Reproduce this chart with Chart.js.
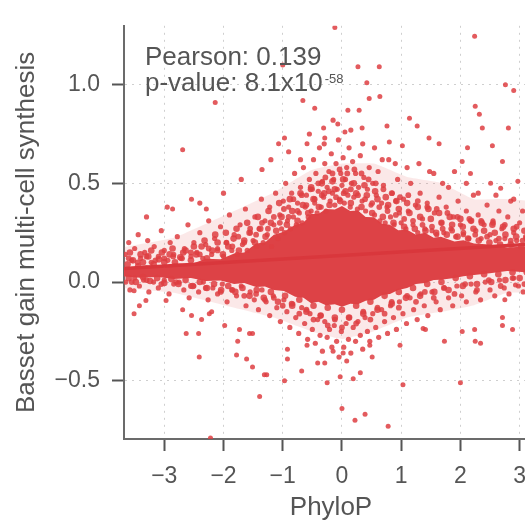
<!DOCTYPE html>
<html>
<head>
<meta charset="utf-8">
<script src="https://cdn.jsdelivr.net/npm/chart.js@4.4.1/dist/chart.umd.min.js"></script>
<style>
  html, body { margin: 0; padding: 0; background: #fff; overflow: hidden; }
  #wrap { position: absolute; left: 0; top: 0; width: 545px; height: 527px; }
</style>
</head>
<body>
<div id="wrap"><canvas id="graf" width="545" height="527"></canvas></div>
<script>
// Osy a popisky
const xTicks = [-3, -2, -1, 0, 1, 2, 3];
const xTickLabels = ['\u22123', '\u22122', '\u22121', '0', '1', '2', '3'];
const yTicks = [-0.5, 0, 0.5, 1.0];
const yTickLabels = ['\u22120.5', '0.0', '0.5', '1.0'];
const xRange = [-3.68, 3.31];
const yRange = [-0.795, 1.298];
const xTitle = 'PhyloP';
const yTitle = 'Basset gain multi-cell synthesis';
const pearsonText = 'Pearson: 0.139';
const pvalueText = 'p-value: 8.1x10';
const pvalueExp = '-58';

// Regresni primka
const fitX = [-3.68, 3.35];
const fitY = [0.068, 0.195];

// Hustne jadro bodu (obrys plne plochy)
const coreOutline = [
  [-3.7, 0.068], [-3.3, 0.085], [-3.0, 0.075], [-2.84, 0.095], [-2.55, 0.09], [-2.3, 0.118], [-2.05, 0.115],
  [-1.82, 0.145], [-1.65, 0.15], [-1.45, 0.195], [-1.3, 0.2], [-1.15, 0.24], [-0.98, 0.255], [-0.79, 0.29],
  [-0.65, 0.3], [-0.52, 0.345], [-0.4, 0.345], [-0.27, 0.37], [-0.12, 0.368], [0, 0.385], [0.14, 0.36],
  [0.27, 0.362], [0.4, 0.33], [0.54, 0.328], [0.68, 0.295], [0.81, 0.29], [0.95, 0.262], [1.10, 0.265],
  [1.25, 0.24], [1.4, 0.25], [1.55, 0.225], [1.67, 0.23], [1.9, 0.205], [2.05, 0.212], [2.23, 0.195],
  [2.5, 0.19], [2.79, 0.175], [3.1, 0.18], [3.4, 0.171],
  [3.4, 0.059], [3.1, 0.05], [2.79, 0.056], [2.5, 0.045], [2.23, 0.036], [2.05, 0.03], [1.9, 0.02],
  [1.67, 0.012], [1.55, 0.01], [1.4, -0.005], [1.25, -0.01], [1.10, -0.03], [0.95, -0.04], [0.81, -0.06],
  [0.68, -0.065], [0.54, -0.09], [0.4, -0.095], [0.27, -0.113], [0.14, -0.11], [0, -0.125], [-0.12, -0.112],
  [-0.27, -0.118], [-0.4, -0.1], [-0.52, -0.108], [-0.65, -0.08], [-0.79, -0.075], [-0.98, -0.045],
  [-1.15, -0.04], [-1.3, -0.022], [-1.45, -0.025], [-1.65, -0.005], [-1.82, -0.01], [-2.05, 0.008],
  [-2.3, 0.005], [-2.55, 0.02], [-2.84, 0.015], [-3.1, 0.025], [-3.4, 0.022], [-3.7, 0.029]
];

// Ridsi pas kolem jadra
const outerHalo = [
  [-3.7, 0.176], [-2.84, 0.224], [-1.99, 0.337], [-1.15, 0.454], [-0.52, 0.566], [0, 0.6], [0.54, 0.6],
  [1.10, 0.532], [1.67, 0.502], [2.23, 0.42], [2.79, 0.42], [3.4, 0.395],
  [3.4, -0.044], [2.79, -0.054], [2.23, -0.117], [1.67, -0.151], [1.10, -0.18], [0.54, -0.249], [0, -0.288],
  [-0.52, -0.249], [-1.15, -0.18], [-1.99, -0.117], [-2.84, -0.054], [-3.7, -0.029]
];

// Husty pas bodu u okraje jadra
const densePoints = [
  [-3.62, 0.09], [-3.53, 0.11], [-3.44, 0.08], [-3.36, 0.1], [-3.27, 0.13], [-3.18, 0.09], [-3.09, 0.115], [-3.0, 0.1],
  [-2.91, 0.14], [-2.82, 0.1], [-2.73, 0.125], [-2.64, 0.16], [-2.55, 0.11], [-2.46, 0.14], [-2.37, 0.18], [-2.28, 0.12],
  [-2.19, 0.16], [-2.1, 0.2], [-2.01, 0.14], [-1.92, 0.18], [-1.83, 0.22], [-1.74, 0.16], [-1.65, 0.21], [-1.56, 0.25],
  [-1.47, 0.2], [-1.38, 0.27], [-1.29, 0.23], [-1.2, 0.3], [-1.11, 0.26], [-1.02, 0.33], [-0.93, 0.29], [-0.84, 0.36],
  [-0.75, 0.31], [-0.66, 0.39], [-0.57, 0.35], [-0.48, 0.42], [-0.39, 0.38], [-0.3, 0.45], [-0.21, 0.39], [-0.12, 0.47],
  [-0.03, 0.41], [0.06, 0.46], [0.15, 0.4], [0.24, 0.45], [0.33, 0.38], [0.42, 0.44], [0.51, 0.35], [0.6, 0.42],
  [0.69, 0.33], [0.78, 0.39], [0.87, 0.3], [0.96, 0.37], [1.05, 0.28], [1.14, 0.35], [1.23, 0.27], [1.32, 0.33],
  [1.41, 0.26], [1.5, 0.32], [1.59, 0.25], [1.68, 0.3], [1.77, 0.24], [1.86, 0.29], [1.95, 0.23], [2.04, 0.28],
  [2.13, 0.22], [2.22, 0.27], [2.31, 0.21], [2.4, 0.26], [2.49, 0.2], [2.58, 0.25], [2.67, 0.19], [2.76, 0.24],
  [2.85, 0.19], [2.94, 0.23], [3.03, 0.18], [3.12, 0.22], [3.21, 0.18], [3.3, 0.21],
  [-3.58, 0.15], [-3.4, 0.14], [-3.22, 0.16], [-3.04, 0.15], [-2.86, 0.17], [-2.68, 0.15], [-2.5, 0.18], [-2.32, 0.21],
  [-2.14, 0.24], [-1.96, 0.25], [-1.78, 0.27], [-1.6, 0.3], [-1.42, 0.33], [-1.24, 0.36], [-1.06, 0.4], [-0.88, 0.42],
  [-0.7, 0.45], [-0.52, 0.48], [-0.34, 0.5], [-0.16, 0.51], [0.02, 0.52], [0.2, 0.5], [0.38, 0.49], [0.56, 0.46],
  [0.74, 0.43], [0.92, 0.41], [1.1, 0.4], [1.28, 0.38], [1.46, 0.37], [1.64, 0.35], [1.82, 0.33], [2.0, 0.32],
  [2.18, 0.31], [2.36, 0.3], [2.54, 0.29], [2.72, 0.28], [2.9, 0.27], [3.08, 0.26], [3.26, 0.27],
  [-3.6, 0.02], [-3.48, 0.0], [-3.36, 0.025], [-3.24, 0.005], [-3.12, 0.02], [-3.0, -0.005], [-2.88, 0.015], [-2.76, -0.01],
  [-2.64, 0.01], [-2.52, -0.02], [-2.4, 0.0], [-2.28, -0.03], [-2.16, -0.01], [-2.04, -0.04], [-1.92, -0.02], [-1.8, -0.05],
  [-1.68, -0.03], [-1.56, -0.07], [-1.44, -0.04], [-1.32, -0.08], [-1.2, -0.05], [-1.08, -0.1], [-0.96, -0.07], [-0.84, -0.12],
  [-0.72, -0.09], [-0.6, -0.15], [-0.48, -0.12], [-0.36, -0.17], [-0.24, -0.13], [-0.12, -0.18], [0.0, -0.14], [0.12, -0.18],
  [0.24, -0.12], [0.36, -0.16], [0.48, -0.1], [0.6, -0.14], [0.72, -0.07], [0.84, -0.11], [0.96, -0.05], [1.08, -0.08],
  [1.2, -0.03], [1.32, -0.07], [1.44, -0.01], [1.56, -0.05], [1.68, 0.0], [1.8, -0.04], [1.92, 0.02], [2.04, -0.02],
  [2.16, 0.03], [2.28, -0.01], [2.4, 0.04], [2.52, 0.0], [2.64, 0.04], [2.76, 0.01], [2.88, 0.05], [3.0, 0.02],
  [3.12, 0.05], [3.24, 0.02], [3.36, 0.04]
];

// Body tesne u jadra
const edgePoints = [
  [-3.6, 0.12], [-3.45, 0.1], [-3.3, 0.13], [-3.15, 0.11], [-3.0, 0.12], [-2.85, 0.13], [-2.7, 0.12], [-2.55, 0.15],
  [-2.4, 0.14], [-2.25, 0.17], [-2.1, 0.16], [-1.95, 0.2], [-1.85, 0.18], [-1.75, 0.23], [-1.65, 0.2], [-1.55, 0.27],
  [-1.45, 0.24], [-1.35, 0.3], [-1.25, 0.27], [-1.15, 0.33], [-1.05, 0.3], [-0.98, 0.37], [-0.9, 0.33], [-0.82, 0.42],
  [-0.75, 0.36], [-0.68, 0.44], [-0.6, 0.39], [-0.53, 0.47], [-0.46, 0.42], [-0.4, 0.5], [-0.34, 0.44], [-0.28, 0.53],
  [-0.22, 0.46], [-0.16, 0.55], [-0.1, 0.43], [-0.04, 0.57], [0.03, 0.45], [0.09, 0.55], [0.15, 0.47], [0.21, 0.57],
  [0.27, 0.44], [0.33, 0.55], [0.39, 0.42], [0.45, 0.52], [0.51, 0.4], [0.57, 0.5], [0.63, 0.38], [0.7, 0.47],
  [0.77, 0.36], [0.84, 0.45], [0.91, 0.34], [0.98, 0.43], [1.05, 0.32], [1.12, 0.44], [1.2, 0.31], [1.28, 0.41],
  [1.36, 0.29], [1.44, 0.38], [1.52, 0.28], [1.6, 0.37], [1.7, 0.27], [1.78, 0.35], [1.86, 0.26], [1.95, 0.33],
  [2.05, 0.25], [2.15, 0.32], [2.25, 0.24], [2.35, 0.31], [2.45, 0.23], [2.55, 0.3], [2.65, 0.22], [2.75, 0.29],
  [2.85, 0.21], [2.95, 0.28], [3.05, 0.21], [3.15, 0.27], [3.25, 0.22],
  [-3.55, 0.0], [-3.3, 0.01], [-3.05, -0.01], [-2.8, 0.0], [-2.55, -0.02], [-2.3, -0.03], [-2.05, -0.05], [-1.85, -0.04],
  [-1.65, -0.07], [-1.45, -0.06], [-1.3, -0.09], [-1.15, -0.08], [-1.0, -0.12], [-0.85, -0.11], [-0.72, -0.16], [-0.6, -0.14],
  [-0.48, -0.19], [-0.36, -0.17], [-0.24, -0.22], [-0.12, -0.19], [0.0, -0.23], [0.12, -0.18], [0.24, -0.21], [0.36, -0.15],
  [0.48, -0.19], [0.6, -0.13], [0.72, -0.16], [0.84, -0.1], [0.96, -0.13], [1.1, -0.07], [1.25, -0.1], [1.4, -0.05],
  [1.55, -0.08], [1.72, -0.03], [1.9, -0.06], [2.08, -0.01], [2.28, -0.04], [2.48, 0.01], [2.68, -0.02], [2.88, 0.02],
  [3.08, -0.01], [3.28, 0.02]
];

// Body nad jadrem
const upperPoints = [
  [-3.66, 0.14], [-3.6, 0.2], [-3.55, 0.11], [-3.5, 0.17], [-3.44, 0.24], [-3.4, 0.12], [-3.33, 0.15], [-3.28, 0.21],
  [-3.22, 0.1], [-3.17, 0.18], [-3.1, 0.13], [-3.05, 0.26], [-3.0, 0.16], [-2.94, 0.11], [-2.9, 0.2], [-2.84, 0.14],
  [-2.78, 0.23], [-2.72, 0.12], [-2.66, 0.17], [-2.6, 0.29], [-2.55, 0.13], [-2.5, 0.2],
  [-2.45, 0.15], [-2.4, 0.25], [-2.35, 0.12], [-2.3, 0.19], [-2.25, 0.31], [-2.2, 0.14], [-2.15, 0.22], [-2.1, 0.17],
  [-2.05, 0.28], [-2.0, 0.13], [-1.95, 0.2], [-1.9, 0.34], [-1.86, 0.16], [-1.82, 0.24], [-1.77, 0.14], [-1.72, 0.29],
  [-1.68, 0.19], [-1.63, 0.37], [-1.6, 0.16], [-1.55, 0.25], [-1.5, 0.21],
  [-1.47, 0.33], [-1.44, 0.18], [-1.4, 0.27], [-1.36, 0.42], [-1.33, 0.2], [-1.3, 0.31], [-1.26, 0.24], [-1.22, 0.38],
  [-1.19, 0.18], [-1.15, 0.29], [-1.12, 0.45], [-1.08, 0.22], [-1.05, 0.34], [-1.02, 0.27], [-0.99, 0.41],
  [-0.97, 0.25], [-0.95, 0.5], [-0.92, 0.31], [-0.9, 0.38], [-0.87, 0.27], [-0.85, 0.45], [-0.82, 0.33], [-0.8, 0.55],
  [-0.77, 0.29], [-0.75, 0.4], [-0.72, 0.35], [-0.7, 0.48], [-0.67, 0.3], [-0.65, 0.58], [-0.62, 0.38], [-0.6, 0.44],
  [-0.57, 0.33], [-0.55, 0.52], [-0.52, 0.36], [-0.5, 0.47],
  [-0.48, 0.62], [-0.46, 0.4], [-0.44, 0.55], [-0.42, 0.35], [-0.4, 0.46], [-0.38, 0.68], [-0.35, 0.38], [-0.33, 0.51],
  [-0.31, 0.43], [-0.29, 0.6], [-0.27, 0.36], [-0.25, 0.48], [-0.22, 0.56], [-0.2, 0.41], [-0.18, 0.65], [-0.16, 0.45],
  [-0.14, 0.52], [-0.12, 0.39], [-0.1, 0.6], [-0.08, 0.47], [-0.06, 0.72], [-0.04, 0.42], [-0.02, 0.55], [0.0, 0.49], [0.02, 0.63],
  [0.04, 0.4], [0.06, 0.52], [0.08, 0.58], [0.1, 0.44], [0.12, 0.68], [0.14, 0.38], [0.16, 0.5], [0.18, 0.61],
  [0.2, 0.43], [0.23, 0.55], [0.26, 0.37], [0.28, 0.48], [0.31, 0.64], [0.34, 0.41], [0.37, 0.53], [0.4, 0.36],
  [0.43, 0.47], [0.46, 0.58], [0.49, 0.39], [0.52, 0.5],
  [0.55, 0.34], [0.58, 0.44], [0.61, 0.56], [0.64, 0.31], [0.67, 0.4], [0.7, 0.49], [0.73, 0.3], [0.76, 0.38],
  [0.79, 0.62], [0.82, 0.33], [0.85, 0.45], [0.88, 0.29], [0.91, 0.41], [0.94, 0.52], [0.97, 0.35],
  [1.0, 0.3], [1.04, 0.42], [1.08, 0.27], [1.12, 0.36], [1.16, 0.5], [1.2, 0.29], [1.24, 0.39], [1.28, 0.25],
  [1.32, 0.45], [1.36, 0.32], [1.4, 0.27], [1.44, 0.4], [1.48, 0.56],
  [1.52, 0.26], [1.56, 0.35], [1.6, 0.24], [1.64, 0.43], [1.68, 0.3], [1.72, 0.25], [1.76, 0.38], [1.8, 0.48],
  [1.84, 0.27], [1.88, 0.33], [1.92, 0.23], [1.96, 0.41],
  [2.0, 0.29], [2.05, 0.24], [2.1, 0.36], [2.14, 0.22], [2.18, 0.31], [2.22, 0.44], [2.26, 0.26], [2.3, 0.34],
  [2.35, 0.22], [2.4, 0.29], [2.45, 0.39], [2.5, 0.24], [2.55, 0.31], [2.6, 0.21], [2.65, 0.36], [2.7, 0.27],
  [2.75, 0.22], [2.8, 0.33], [2.85, 0.41], [2.9, 0.25], [2.95, 0.21], [3.0, 0.3], [3.05, 0.36], [3.1, 0.23],
  [3.15, 0.28], [3.2, 0.2], [3.25, 0.33], [3.3, 0.26],
  [-3.3, 0.33], [-2.95, 0.38], [-2.4, 0.4], [-2.0, 0.45], [-1.7, 0.52], [-1.35, 0.57], [-1.2, 0.62], [-0.9, 0.66],
  [-0.7, 0.62], [-0.55, 0.75], [-0.3, 0.7], [-0.15, 0.82], [0.15, 0.77], [0.35, 0.7], [0.55, 0.68], [0.68, 0.62],
  [0.9, 0.6], [1.1, 0.58], [1.3, 0.6], [1.55, 0.55], [1.7, 0.5], [1.9, 0.56], [2.1, 0.5], [2.3, 0.45],
  [2.6, 0.44], [2.9, 0.42], [3.15, 0.4]
];

// Body pod jadrem
const lowerPoints = [
  [-3.65, 0.0], [-3.58, -0.04], [-3.5, 0.02], [-3.42, -0.02], [-3.35, 0.01], [-3.26, -0.05], [-3.18, 0.0], [-3.1, -0.03],
  [-3.0, 0.01], [-2.92, -0.06], [-2.84, -0.01], [-2.75, 0.0], [-2.67, -0.04], [-2.58, -0.08], [-2.5, -0.02], [-2.42, -0.05],
  [-2.34, 0.0], [-2.26, -0.09], [-2.18, -0.03], [-2.1, -0.06], [-2.02, -0.01], [-1.94, -0.1], [-1.86, -0.04], [-1.78, -0.07],
  [-1.7, -0.02], [-1.62, -0.12], [-1.55, -0.05], [-1.48, -0.09], [-1.41, -0.14], [-1.35, -0.04], [-1.28, -0.1], [-1.22, -0.17],
  [-1.16, -0.07], [-1.1, -0.13], [-1.04, -0.2], [-0.98, -0.09], [-0.93, -0.15], [-0.88, -0.23], [-0.83, -0.11], [-0.78, -0.18],
  [-0.73, -0.26], [-0.68, -0.13], [-0.63, -0.21], [-0.58, -0.29], [-0.54, -0.16], [-0.5, -0.24], [-0.45, -0.31], [-0.41, -0.19],
  [-0.37, -0.27], [-0.33, -0.35], [-0.29, -0.2], [-0.25, -0.28], [-0.21, -0.24], [-0.17, -0.33], [-0.13, -0.22], [-0.09, -0.3],
  [-0.05, -0.38], [-0.01, -0.25], [0.03, -0.33], [0.07, -0.21], [0.11, -0.29], [0.15, -0.36], [0.19, -0.23], [0.23, -0.3],
  [0.27, -0.2], [0.31, -0.27], [0.35, -0.34], [0.39, -0.18], [0.43, -0.25], [0.47, -0.3], [0.52, -0.16], [0.57, -0.23],
  [0.62, -0.28], [0.67, -0.14], [0.72, -0.2], [0.77, -0.26], [0.82, -0.12], [0.87, -0.18], [0.92, -0.24], [0.97, -0.1],
  [1.03, -0.16], [1.09, -0.21], [1.15, -0.08], [1.21, -0.14], [1.27, -0.19], [1.33, -0.06], [1.39, -0.12], [1.45, -0.17],
  [1.52, -0.05], [1.59, -0.1], [1.66, -0.14], [1.73, -0.03], [1.8, -0.08], [1.87, -0.12], [1.94, -0.02], [2.02, -0.07],
  [2.1, -0.1], [2.18, -0.01], [2.26, -0.05], [2.34, -0.09], [2.42, 0.0], [2.5, -0.04], [2.58, -0.07], [2.66, 0.01],
  [2.74, -0.03], [2.82, -0.06], [2.9, 0.02], [2.98, -0.02], [3.06, -0.05], [3.14, 0.01], [3.22, -0.03], [3.3, 0.0]
];

// Odlehle body
const outlierPoints = [
  [-2.14, 0.91], [-2.69, 0.67], [-2.54, 0.42], [-2.86, 0.37], [-2.29, 0.37],
  [-0.12, 1.29], [2.24, 1.245], [-1.0, 1.10], [0.27, 1.09], [0.63, 1.09], [0.42, 1.01], [2.76, 1.0], [2.9, 0.97],
  [-0.66, 0.92], [-0.46, 0.88], [0.64, 0.94], [0.46, 0.93], [0.10, 0.87], [0.29, 0.87], [2.25, 0.89], [2.32, 0.85],
  [2.37, 0.78], [2.81, 0.78], [1.14, 0.83], [1.27, 0.79], [-0.31, 0.78], [-0.07, 0.80], [0.34, 0.78], [0.76, 0.79],
  [-0.97, 0.73], [-1.07, 0.70], [-0.59, 0.70], [-0.29, 0.73], [0.05, 0.76], [0.8, 0.71], [1.02, 0.69], [1.47, 0.73],
  [1.64, 0.70], [2.54, 0.69], [2.12, 0.68], [2.71, 0.61], [2.03, 0.61], [2.17, 0.55], [2.51, 0.50], [2.68, 0.475], [2.97, 0.51],
  [-3.51, -0.044], [-3.31, -0.093], [-3.42, -0.12], [-3.51, -0.16], [-2.97, -0.093], [-2.69, -0.14], [-2.54, -0.17],
  [-2.37, -0.19], [-2.63, -0.26], [-2.42, -0.26], [-2.41, -0.38], [-2.24, -0.16], [-1.98, -0.22], [-1.76, -0.30],
  [-1.78, -0.37], [-1.61, -0.39], [-1.51, -0.43], [-1.39, -0.58], [-2.22, -0.79], [-1.73, -0.24], [-1.51, -0.26],
  [-2.2, -0.15], [-1.31, -0.47], [-1.56, -0.26], [-0.97, -0.50], [-0.92, -0.34], [-0.92, -0.39], [-0.68, -0.45],
  [-0.59, -0.32], [-0.25, -0.51], [-0.41, -0.41], [-0.29, -0.41], [-0.03, -0.48], [0.0, -0.64], [0.19, -0.49],
  [0.31, -0.46], [0.22, -0.70], [0.39, -0.67], [0.78, -0.73], [1.03, -0.52], [0.98, -0.32], [0.51, -0.38],
  [0.08, -0.40], [0.02, -0.36], [-0.15, -0.35], [0.47, -0.32], [1.37, -0.235], [-1.27, -0.47], [2.0, -0.51],
  [2.25, -0.30], [2.34, -0.31], [2.03, -0.25], [1.73, -0.30], [1.41, -0.24], [2.71, -0.18], [2.88, -0.24],
  [2.71, -0.22], [2.24, -0.24], [2.93, -0.015], [2.75, -0.09]
];

// Barvy a pisma
const cervena = 'rgb(221, 66, 70)';
const bodBarva = 'rgba(222, 62, 66, 0.85)';
const sedaText = '#555555';
const pismo = '"Liberation Sans", Arial, Helvetica, sans-serif';

const toXY = arr => arr.map(p => ({ x: p[0], y: p[1] }));

// Text s Pearsonem a p-hodnotou
const popiskyPlugin = {
  id: 'popisky',
  afterDraw(chart) {
    const ctx = chart.ctx;
    const left = chart.chartArea.left + 21;
    const top = chart.chartArea.top;
    ctx.save();
    ctx.fillStyle = sedaText;
    ctx.textBaseline = 'alphabetic';
    ctx.font = '26px ' + pismo;
    ctx.fillText(pearsonText, left, top + 39);
    ctx.fillText(pvalueText, left, top + 65);
    const w = ctx.measureText(pvalueText).width;
    ctx.font = '13px ' + pismo;
    ctx.fillText(pvalueExp, left + w + 2, top + 57);
    ctx.restore();
  }
};

function body(label, pole, polomer) {
  return {
    label: label,
    type: 'scatter',
    data: toXY(pole),
    showLine: false,
    pointRadius: polomer,
    pointBorderWidth: 0,
    pointBackgroundColor: bodBarva,
    order: 1
  };
}

function plocha(label, outline, barva, poradi, napeti) {
  return {
    label: label,
    type: 'line',
    data: toXY(outline),
    borderWidth: 0,
    borderColor: 'rgba(0,0,0,0)',
    backgroundColor: barva,
    pointRadius: 0,
    tension: napeti,
    fill: 'shape',
    order: poradi
  };
}

new Chart(document.getElementById('graf').getContext('2d'), {
  type: 'scatter',
  data: {
    datasets: [
      {
        label: 'Regrese',
        type: 'line',
        data: fitX.map((x, i) => ({ x: x, y: fitY[i] })),
        borderColor: 'rgb(217, 55, 60)',
        borderWidth: 3.5,
        pointRadius: 0,
        fill: false,
        order: 0
      },
      body('Odlehle', outlierPoints, 2.5),
      body('Nad', upperPoints, 2.6),
      body('Pod', lowerPoints, 2.6),
      body('Okraj', edgePoints, 2.9),
      body('Husty pas', densePoints, 3.3),
      plocha('Jadro', coreOutline, cervena, 3, 0),
      plocha('Vnejsi pas', outerHalo, 'rgba(228, 100, 104, 0.15)', 5, 0.12)
    ]
  },
  options: {
    responsive: false,
    animation: false,
    events: [],
    layout: { padding: { top: 10, right: 7, left: 0, bottom: 0 } },
    plugins: { legend: { display: false }, tooltip: { enabled: false } },
    scales: {
      x: {
        type: 'linear',
        min: xRange[0],
        max: xRange[1],
        afterBuildTicks: s => { s.ticks = xTicks.map(v => ({ value: v })); },
        afterFit: s => { s.height = 88; },
        ticks: {
          callback: (v, i) => xTickLabels[i],
          color: sedaText,
          font: { family: pismo, size: 23 },
          padding: 12,
          maxRotation: 0
        },
        grid: {
          color: '#cfcfcf',
          lineWidth: 1,
          tickLength: 12,
          tickColor: '#555',
          tickWidth: 2,
          tickBorderDash: [],
          borderDash: [2, 5]
        },
        border: { display: true, color: '#6b6b6b', width: 2, dash: [2, 5] },
        title: {
          display: true,
          text: xTitle,
          color: sedaText,
          font: { family: pismo, size: 26 },
          padding: { top: 0, bottom: 4 }
        }
      },
      y: {
        type: 'linear',
        min: yRange[0],
        max: yRange[1],
        afterBuildTicks: s => { s.ticks = yTicks.map(v => ({ value: v })); },
        afterFit: s => { s.width = 124; },
        ticks: {
          callback: (v, i) => yTickLabels[i],
          color: sedaText,
          font: { family: pismo, size: 23 },
          padding: 12
        },
        grid: {
          color: '#cfcfcf',
          lineWidth: 1,
          tickLength: 12,
          tickColor: '#555',
          tickWidth: 2,
          tickBorderDash: [],
          borderDash: [2, 5]
        },
        border: { display: true, color: '#6b6b6b', width: 2, dash: [2, 5] },
        title: {
          display: true,
          text: yTitle,
          color: sedaText,
          font: { family: pismo, size: 26 },
          padding: { top: 11, bottom: 0 }
        }
      }
    }
  },
  plugins: [popiskyPlugin]
});
</script>
</body>
</html>
